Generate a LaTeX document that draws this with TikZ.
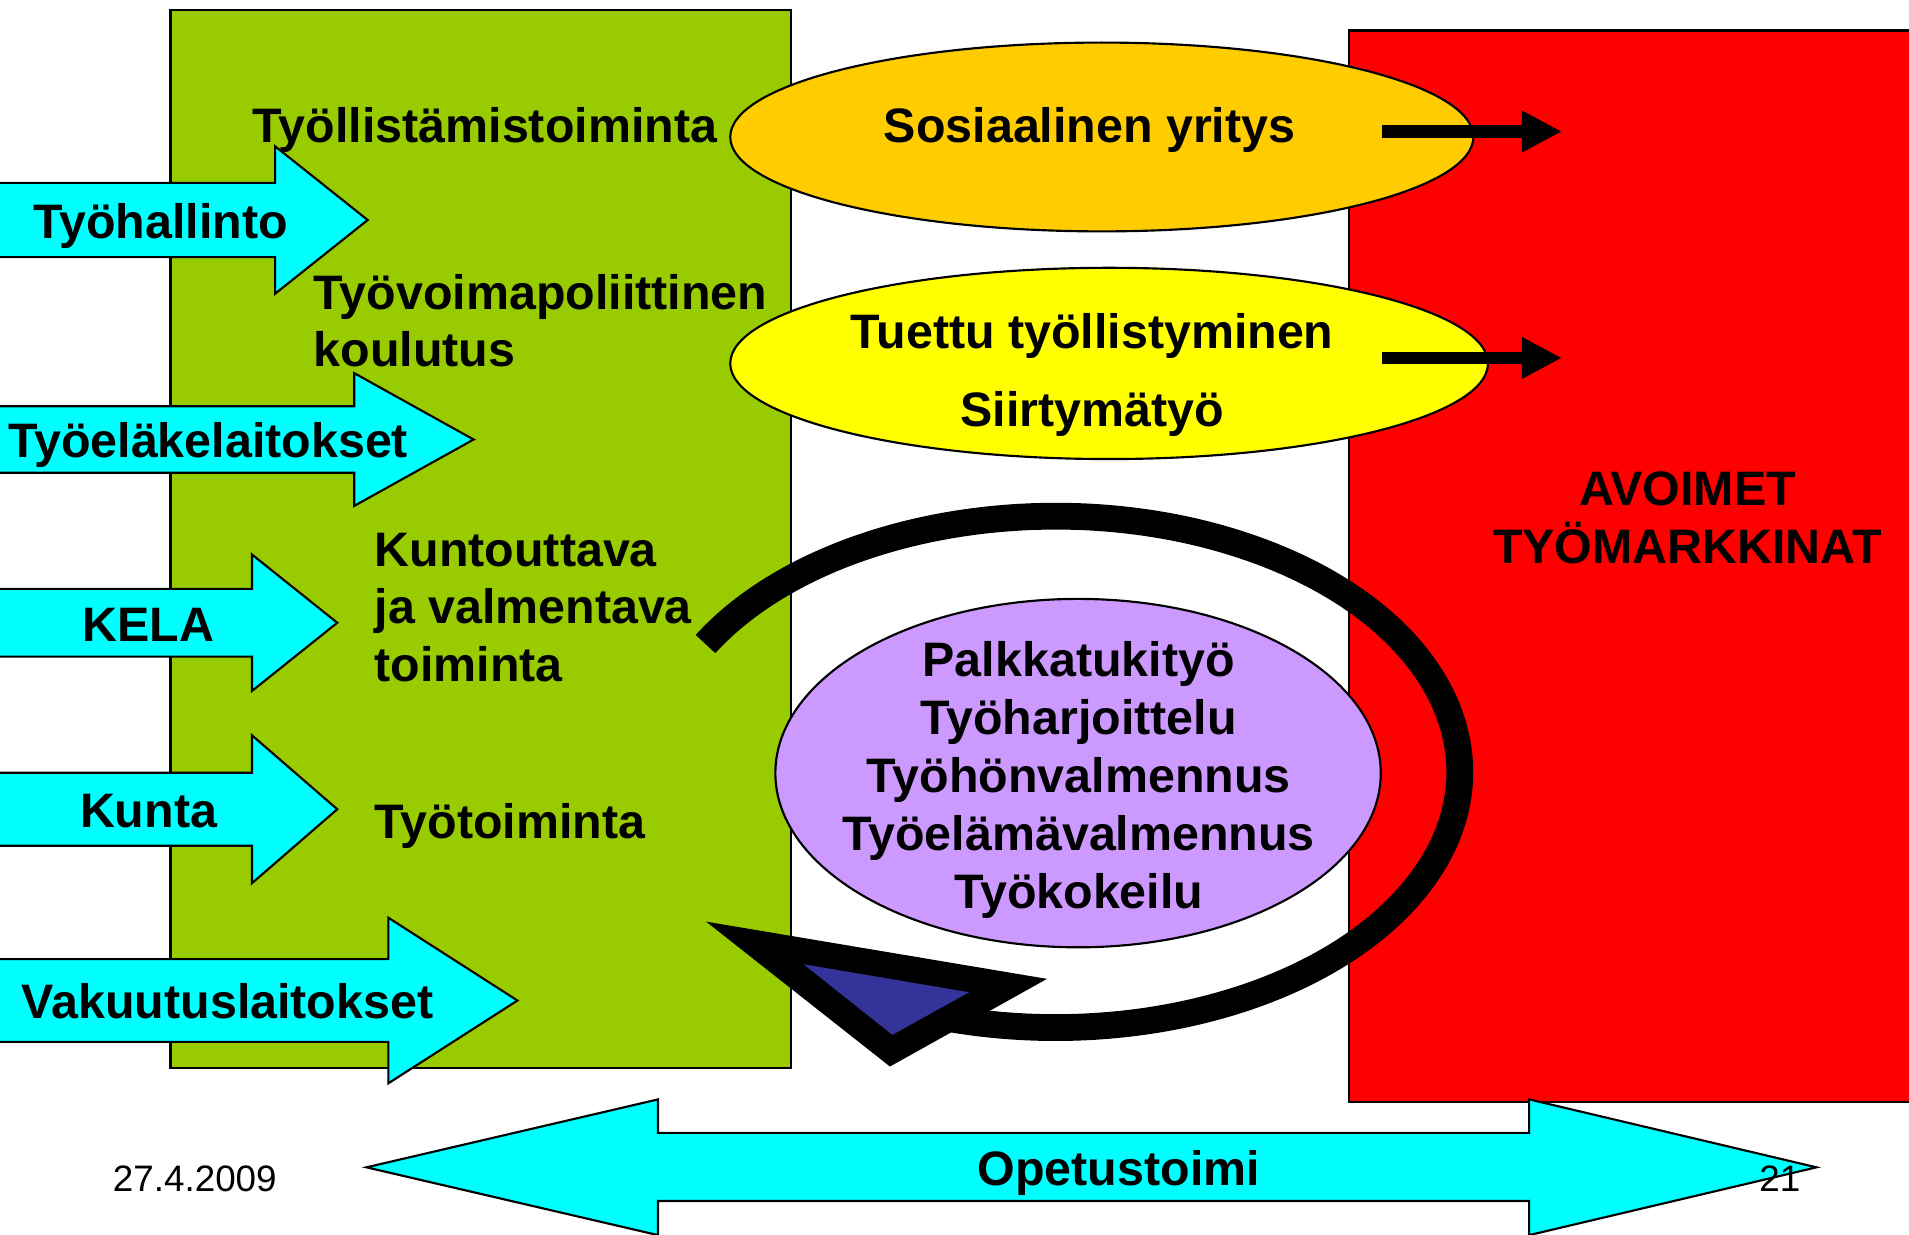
\documentclass[tikz,border=0pt]{standalone}
\usepackage{fontspec}
\setmainfont{Liberation Sans}
\usetikzlibrary{arrows.meta,shapes.geometric}

\definecolor{blockgreen}{HTML}{99CC00}
\definecolor{blockred}{HTML}{FF0000}
\definecolor{ovorange}{HTML}{FFCC00}
\definecolor{ovyellow}{HTML}{FFFF00}
\definecolor{ovpurple}{HTML}{CC99FF}
\definecolor{arrowcyan}{HTML}{00FFFF}
\definecolor{headnavy}{HTML}{333399}

\begin{document}
\begin{tikzpicture}[
    x=0.01cm, y=-0.01cm,
    box/.style={draw=black, line width=0.5pt},
    bubble/.style={ellipse, draw=black, line width=0.5pt, inner sep=0pt},
    block/.style={fill=arrowcyan, draw=black, line width=0.5pt, line join=miter},
    lbl/.style={font={\fontsize{11.3}{13.5}\selectfont\bfseries}, inner sep=0pt},
    smalllbl/.style={font={\fontsize{8.6}{10}\selectfont}, inner sep=0pt},
    fatarrow/.style={line width=1mm, -{Triangle[length=3.3mm,width=3.2mm]}},
    ring/.style={line width=2.2mm, line cap=butt}
]

\useasboundingbox (0,0) rectangle (1568,1014);
\fill[white] (0,0) rectangle (1568,1014);
\clip (0,0) rectangle (1568,1014);

% ------------------------------------------------
% Background blocks
% ------------------------------------------------
\draw[box, fill=blockgreen] (140,8) rectangle (650,877);
\draw[box, fill=blockred] (1108,25) rectangle (1620,905);

% ------------------------------------------------
% Circular arrow round the purple ellipse
% ------------------------------------------------
\draw[ring] (867,634) ++(210:332 and 210)
    arc[start angle=210, end angle=465, x radius=332, y radius=210];

% arrowhead: black outer triangle, navy inside
\fill[black] (580,757) -- (860,804) -- (731,876) -- cycle;
\fill[headnavy] (660,792) -- (796,815) -- (733,850) -- cycle;

% ------------------------------------------------
% Ellipses
% ------------------------------------------------
\node[bubble, fill=ovorange, minimum width=6.1cm, minimum height=1.55cm] (soso) at (905,112.5) {};
\node[bubble, fill=ovyellow, minimum width=6.22cm, minimum height=1.57cm] (tuet) at (911,298.5) {};
\node[bubble, fill=ovpurple, minimum width=4.97cm, minimum height=2.86cm] (tuki) at (885.5,635) {};

% arrows into the open labour market
\coordinate (Sy1) at (1135,108);
\coordinate (Sy2) at (1283,108);
\coordinate (Tt1) at (1135,294);
\coordinate (Tt2) at (1283,294);

\draw[fatarrow] (Sy1) -- (Sy2);
\draw[fatarrow] (Tt1) -- (Tt2);

% ------------------------------------------------
% Cyan block arrows on the left
% ------------------------------------------------
\foreach \nm/\yc/\hw/\hh/\bx/\tx/\lx/\txt in {
    tyohal/180.7/30.5/60.5/226/302/132/Työhallinto,
    tyoel/361/27.3/54.5/291/389/171/Työeläkelaitokset,
    kela/511.5/27.8/56/207/277/122/KELA,
    kunta/664.7/30/60.7/207/277/122/Kunta,
    vakuu/821.8/34/68/319/425/187/Vakuutuslaitokset}
{
    \draw[block] (-10,{\yc-\hw}) -- (\bx,{\yc-\hw}) -- (\bx,{\yc-\hh})
        -- (\tx,\yc) -- (\bx,{\yc+\hh}) -- (\bx,{\yc+\hw})
        -- (-10,{\yc+\hw}) -- cycle;
    \node[lbl, anchor=base] (\nm) at (\lx,{\yc+15}) {\txt};
}

% bottom double arrow
\draw[block] (301,958.8) -- (540.5,903) -- (540.5,930.5) -- (1256,930.5)
    -- (1256,903) -- (1492,958.8) -- (1256,1014.5) -- (1256,986.5)
    -- (540.5,986.5) -- (540.5,1014.5) -- cycle;
\node[lbl, anchor=base] (opetus) at (919,974) {Opetustoimi};

% ------------------------------------------------
% Texts in the green block
% ------------------------------------------------
\node[lbl, anchor=base west] (tyoll) at (207,117) {Työllistämistoiminta};
\node[lbl, anchor=base west] (tyovo1) at (257,254) {Työvoimapoliittinen};
\node[lbl, anchor=base west] (tyovo2) at (257,301) {koulutus};
\foreach \txt [count=\k] in {Kuntouttava, ja valmentava, toiminta}
    \node[lbl, anchor=base west] (kunt\k) at (307,{465+47.5*(\k-1)}) {\txt};
\node[lbl, anchor=base west] (tyotoi) at (307,689) {Työtoiminta};

% ------------------------------------------------
% Texts in the ellipses and the red block
% ------------------------------------------------
\node[lbl, anchor=base] (sosoT) at (895,117) {Sosiaalinen yritys};
\node[lbl, anchor=base] (tuetT1) at (897,286) {Tuettu työllistyminen};
\node[lbl, anchor=base] (tuetT2) at (897,350) {Siirtymätyö};
\foreach \txt [count=\k] in {Palkkatukityö, Työharjoittelu, Työhönvalmennus,
    Työelämävalmennus, Työkokeilu}
    \node[lbl, anchor=base] (tuki\k) at (886,{556+47.5*(\k-1)}) {\txt};

\node[lbl, anchor=base] (avo1) at (1386,415) {AVOIMET};
\node[lbl, anchor=base] (avo2) at (1386,463) {TYÖMARKKINAT};

% ------------------------------------------------
% Footer
% ------------------------------------------------
\node[smalllbl, anchor=base] (date) at (160,979) {27.4.2009};
\node[smalllbl, anchor=base] (page) at (1462,979) {21};

\end{tikzpicture}
\end{document}
